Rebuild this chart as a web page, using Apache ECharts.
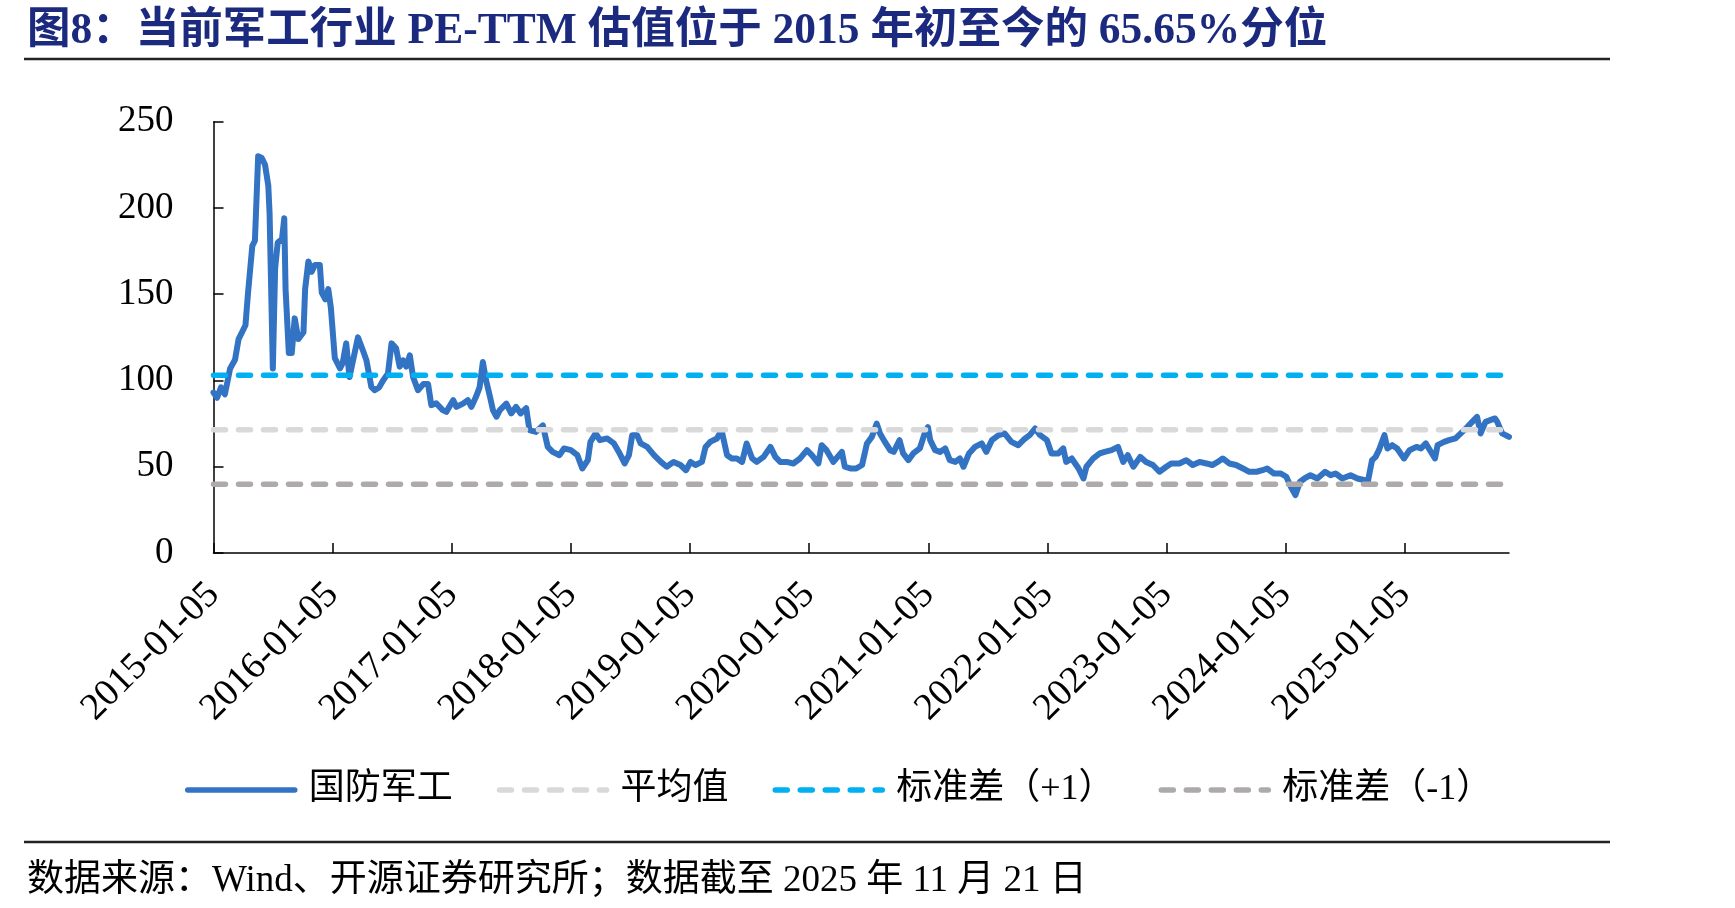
<!DOCTYPE html>
<html>
<head>
<meta charset="utf-8">
<title>军工行业 PE-TTM 估值分位</title>
<script src="https://cdn.jsdelivr.net/npm/echarts@6/dist/echarts.min.js"></script>
<style>
  html, body { margin: 0; padding: 0; background: #fff; }
  #chart { width: 1735px; height: 908px; }
</style>
</head>
<body>
<div id="chart"></div>
<script>
// 国防军工 PE-TTM
const peDates = [
  '2015-01-05', '2015-01-16', '2015-01-28', '2015-02-09', '2015-02-25', '2015-03-12', '2015-03-23',
  '2015-04-13', '2015-04-21', '2015-05-04', '2015-05-12', '2015-05-22', '2015-06-02', '2015-06-12',
  '2015-06-22', '2015-06-26', '2015-07-06', '2015-07-13', '2015-07-21', '2015-08-03', '2015-08-10',
  '2015-08-14', '2015-08-24', '2015-09-02', '2015-09-11', '2015-09-22', '2015-10-08', '2015-10-13',
  '2015-10-23', '2015-11-02', '2015-11-12', '2015-11-27', '2015-12-03', '2015-12-14', '2015-12-23',
  '2015-12-31', '2016-01-12', '2016-01-28', '2016-02-05', '2016-02-16', '2016-02-26', '2016-03-23',
  '2016-04-07', '2016-04-18', '2016-05-03', '2016-05-13', '2016-05-27', '2016-06-08', '2016-06-23',
  '2016-07-04', '2016-07-18', '2016-07-29', '2016-08-08', '2016-08-18', '2016-08-29', '2016-09-08',
  '2016-09-23', '2016-10-10', '2016-10-24', '2016-11-03', '2016-11-18', '2016-12-08', '2016-12-19',
  '2017-01-09', '2017-01-19', '2017-02-08', '2017-02-23', '2017-03-06', '2017-03-20', '2017-03-31',
  '2017-04-10', '2017-04-20', '2017-05-02', '2017-05-11', '2017-05-22', '2017-06-01', '2017-06-21',
  '2017-07-06', '2017-07-21', '2017-08-04', '2017-08-21', '2017-08-31', '2017-09-20', '2017-10-11',
  '2017-10-26', '2017-11-10', '2017-12-01', '2017-12-15', '2018-01-05', '2018-01-25', '2018-02-09',
  '2018-02-26', '2018-03-06', '2018-03-22', '2018-04-04', '2018-04-26', '2018-05-17', '2018-06-01',
  '2018-06-19', '2018-07-02', '2018-07-12', '2018-07-27', '2018-08-07', '2018-08-27', '2018-09-17',
  '2018-10-08', '2018-10-26', '2018-11-16', '2018-12-07', '2018-12-24', '2019-01-07', '2019-01-22',
  '2019-02-11', '2019-02-22', '2019-03-08', '2019-03-29', '2019-04-12', '2019-04-29', '2019-05-14',
  '2019-05-29', '2019-06-14', '2019-06-28', '2019-07-15', '2019-07-29', '2019-08-19', '2019-09-09',
  '2019-09-24', '2019-10-09', '2019-10-29', '2019-11-18', '2019-12-09', '2019-12-30', '2020-01-14',
  '2020-02-03', '2020-02-13', '2020-02-28', '2020-03-20', '2020-04-15', '2020-04-24', '2020-05-11',
  '2020-05-29', '2020-06-16', '2020-07-01', '2020-07-16', '2020-07-31', '2020-08-10', '2020-08-25',
  '2020-09-10', '2020-09-21', '2020-10-09', '2020-10-20', '2020-11-05', '2020-11-20', '2020-12-10',
  '2020-12-25', '2021-01-04', '2021-01-11', '2021-01-26', '2021-02-10', '2021-02-26', '2021-03-12',
  '2021-03-29', '2021-04-12', '2021-04-23', '2021-05-10', '2021-05-28', '2021-06-18', '2021-07-02',
  '2021-07-19', '2021-08-09', '2021-08-27', '2021-09-17', '2021-10-08', '2021-10-29', '2021-11-12',
  '2021-11-29', '2021-12-14', '2022-01-04', '2022-01-18', '2022-02-08', '2022-02-23', '2022-03-04',
  '2022-03-21', '2022-04-11', '2022-04-26', '2022-05-05', '2022-05-26', '2022-06-15', '2022-06-30',
  '2022-07-21', '2022-08-10', '2022-08-26', '2022-09-09', '2022-09-26', '2022-10-17', '2022-11-04',
  '2022-11-25', '2022-12-15', '2023-01-05', '2023-01-20', '2023-02-14', '2023-03-07', '2023-03-27',
  '2023-04-17', '2023-05-08', '2023-05-26', '2023-06-12', '2023-06-27', '2023-07-17', '2023-08-07',
  '2023-08-28', '2023-09-15', '2023-10-09', '2023-10-27', '2023-11-10', '2023-12-01', '2023-12-22',
  '2024-01-08', '2024-01-22', '2024-02-05', '2024-02-19', '2024-03-04', '2024-03-22', '2024-04-12',
  '2024-05-06', '2024-05-23', '2024-06-07', '2024-06-28', '2024-07-23', '2024-08-13', '2024-09-02',
  '2024-09-13', '2024-09-27', '2024-10-08', '2024-10-18', '2024-11-04', '2024-11-13', '2024-11-28',
  '2024-12-13', '2025-01-03', '2025-01-20', '2025-02-10', '2025-02-24', '2025-03-11', '2025-04-08',
  '2025-04-16', '2025-05-06', '2025-05-21', '2025-06-10', '2025-06-26', '2025-07-16', '2025-07-31',
  '2025-08-15', '2025-08-26', '2025-09-10', '2025-10-09', '2025-10-16', '2025-10-31', '2025-11-21'
];
const peValues = [
  93, 90, 96, 92, 107, 112, 124,
  132, 151, 178, 181, 230, 229, 225,
  213, 197, 107, 165, 180, 182, 194,
  153, 116, 116, 136, 124, 128, 153,
  169, 163, 167, 167, 151, 147, 153,
  142, 113, 107, 110, 121.5, 102, 125,
  117.5, 111.7, 96.3, 94.4, 96, 100, 104,
  121.5, 118.6, 108, 111.7, 108, 114.6, 102,
  94.4, 98, 98, 85.7, 86.8, 82.8, 81.8,
  88.6, 84.7, 86.6, 88.6, 84.7, 90.5, 96,
  110.7, 100, 90.5, 82.8, 79, 82.8, 86.6,
  80.9, 84.7, 80.9, 84, 71.2, 70.2, 74,
  61.5, 58.6, 56.7, 60.6, 59.6, 56.7, 49,
  53.8, 64.4, 69.3, 65.4, 66.4, 63.5, 58.6,
  51.9, 56.7, 68.3, 68.3, 63.5, 61.5, 56.7,
  52.8, 50, 52.8, 51, 48, 52.8, 51,
  52.8, 61.5, 64.4, 66.4, 71.2, 56.7, 54.8,
  54.8, 52.8, 63.5, 54.8, 52.8, 55.7, 61.5,
  55.7, 52.8, 52.8, 51.9, 54.8, 59.6, 56.7,
  51.9, 62.5, 59.6, 52.8, 58.6, 50, 49,
  49, 51, 63.5, 67.3, 75, 69.3, 64.4,
  59.6, 58.6, 65.4, 57.7, 53.8, 57.7, 60.6,
  69.3, 73, 65.4, 59.6, 58.6, 60.6, 53.8,
  52.8, 54.8, 50, 57.7, 61.5, 63.5, 58.6,
  65.4, 68.3, 69.3, 64.4, 62.5, 66.4, 68.3,
  72.2, 68.3, 65.4, 57.7, 57.7, 60.6, 52.8,
  54.8, 49, 43.2, 50, 54.8, 57.7, 58.6,
  59.6, 61.5, 52.8, 56.7, 50, 55.7, 52.8,
  51, 47.1, 50, 51.9, 51.9, 53.8, 51,
  52.8, 51.9, 51, 52.8, 54.8, 51.9, 51,
  49, 47.1, 47.1, 48, 49, 46.1, 46.1,
  44.2, 38.4, 33.6, 41.3, 43.2, 45.1, 43.2,
  47.1, 45.1, 46.1, 43.2, 45.1, 43.2, 42.3,
  40.3, 53.8, 55.7, 59.6, 68.3, 60.6, 62.5,
  60.6, 54.8, 59.6, 61.5, 60.6, 63.5, 54.8,
  62.5, 64.4, 65.4, 66.4, 69.3, 73, 76,
  78.9, 69.3, 76, 78, 76, 69.3, 67.3
];
const meanValue = 71.5;   // 平均值
const stdUpper = 103.1;   // 标准差（+1）
const stdLower = 39.9;    // 标准差（-1）

const xTickDates = [
  '2015-01-05', '2016-01-05', '2017-01-05', '2018-01-05', '2019-01-05', '2020-01-05',
  '2021-01-05', '2022-01-05', '2023-01-05', '2024-01-05', '2025-01-05'
];
const yTickValues = [0, 50, 100, 150, 200, 250];

const serifFont = '"Liberation Serif", "Times New Roman", "Noto Sans CJK SC", serif';

const firstDate = peDates[0];
const lastDate = peDates[peDates.length - 1];
const flatLine = (v) => [[firstDate, v], [lastDate, v]];
const tickTimes = xTickDates.map((d) => +new Date(d + 'T00:00:00'));

const dashStyle = (color) => ({
  color: color,
  width: 5.5,
  type: [12, 13],
  cap: 'round'
});

const chart = echarts.init(document.getElementById('chart'));
const option = {
  animation: false,
  backgroundColor: '#fff',
  title: [
    {
      text: '图8：当前军工行业 PE-TTM 估值位于 2015 年初至今的 65.65%分位',
      left: 22,
      top: 5,
      textStyle: {
        fontFamily: serifFont,
        fontSize: 43.5,
        fontWeight: 'bold',
        color: '#1b2a7e'
      }
    },
    {
      text: '数据来源：Wind、开源证券研究所；数据截至 2025 年 11 月 21 日',
      left: 22,
      top: 858,
      textStyle: {
        fontFamily: serifFont,
        fontSize: 37,
        fontWeight: 'normal',
        color: '#000'
      }
    }
  ],
  graphic: [
    { type: 'line', shape: { x1: 24, y1: 59, x2: 1610, y2: 59 }, style: { stroke: '#222', lineWidth: 2.5 } },
    { type: 'line', shape: { x1: 24, y1: 842, x2: 1610, y2: 842 }, style: { stroke: '#222', lineWidth: 2.5 } }
  ],
  legend: {
    left: 180,
    top: 767,
    itemWidth: 107,
    itemHeight: 10,
    itemGap: 44,
    itemStyle: { opacity: 0 },
    lineStyle: { width: 5.5 },
    textStyle: {
      fontFamily: serifFont,
      fontSize: 36,
      color: '#000',
      padding: [0, 0, 0, 9]
    },
    data: ['国防军工', '平均值', '标准差（+1）', '标准差（-1）']
  },
  grid: {
    left: 213.5,
    top: 121.7,
    width: 1295.5,
    height: 431.3
  },
  xAxis: {
    type: 'time',
    min: firstDate,
    max: lastDate,
    axisLine: { lineStyle: { color: '#000', width: 1.5 } },
    axisTick: {
      inside: true,
      length: 10,
      customValues: tickTimes,
      lineStyle: { color: '#000', width: 1.5 }
    },
    axisLabel: {
      customValues: tickTimes,
      rotate: 45,
      margin: 36,
      fontFamily: serifFont,
      fontSize: 38,
      color: '#000',
      formatter: '{yyyy}-{MM}-{dd}'
    },
    splitLine: { show: false }
  },
  yAxis: {
    type: 'value',
    min: yTickValues[0],
    max: yTickValues[yTickValues.length - 1],
    interval: yTickValues[1] - yTickValues[0],
    axisLine: { show: true, lineStyle: { color: '#000', width: 1.5 } },
    axisTick: { show: true, inside: true, length: 10, lineStyle: { color: '#000', width: 1.5 } },
    axisLabel: {
      margin: 40,
      fontFamily: serifFont,
      fontSize: 37,
      color: '#000'
    },
    splitLine: { show: false }
  },
  series: [
    {
      name: '国防军工',
      type: 'line',
      symbol: 'none',
      data: peDates.map((d, i) => [d, peValues[i]]),
      lineStyle: { color: '#3373c4', width: 6, cap: 'round', join: 'round' },
      itemStyle: { color: '#3373c4' }
    },
    {
      name: '平均值',
      type: 'line',
      symbol: 'none',
      data: flatLine(meanValue),
      lineStyle: dashStyle('#d9d9d9'),
      itemStyle: { color: '#d9d9d9' }
    },
    {
      name: '标准差（+1）',
      type: 'line',
      symbol: 'none',
      data: flatLine(stdUpper),
      lineStyle: dashStyle('#00b0f0'),
      itemStyle: { color: '#00b0f0' }
    },
    {
      name: '标准差（-1）',
      type: 'line',
      symbol: 'none',
      data: flatLine(stdLower),
      lineStyle: dashStyle('#aeaaaa'),
      itemStyle: { color: '#aeaaaa' }
    }
  ]
};
chart.setOption(option);
window.addEventListener('resize', () => {
  chart.resize();
});
</script>
</body>
</html>
